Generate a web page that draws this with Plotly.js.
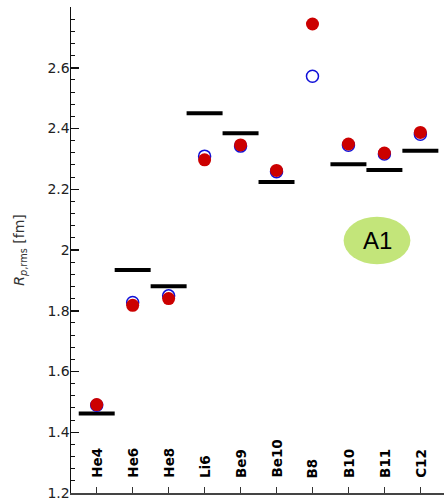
<!DOCTYPE html>
<html>
<head>
<meta charset="utf-8">
<script src="https://cdn.plot.ly/plotly-3.0.1.min.js"></script>
<style>
html,body{margin:0;padding:0;overflow:hidden;background:#fff;}
#chart{width:446px;height:499px;}
</style>
</head>
<body>
<div id="chart"></div>
<script>
// Data
var nuclei = ["He4","He6","He8","Li6","Be9","Be10","B8","B10","B11","C12"];
var experiment = [1.462, 1.934, 1.881, 2.450, 2.384, 2.224, null, 2.282, 2.263, 2.327];
var calcOpen = [1.489, 1.827, 1.849, 2.309, 2.342, 2.258, 2.572, 2.345, 2.316, 2.381];
var calcFilled = [1.491, 1.818, 1.840, 2.297, 2.346, 2.262, 2.744, 2.349, 2.319, 2.387];
var yTickVals = [1.2, 1.4, 1.6, 1.8, 2.0, 2.2, 2.4, 2.6];
var yTickText = ["1.2", "1.4", "1.6", "1.8", "2", "2.2", "2.4", "2.6"];
var badgeText = "A1";

var idx = nuclei.map(function(c, i){ return i; });

var traces = [
  {
    x: nuclei, y: experiment, type: "scatter", mode: "markers",
    marker: {symbol: "line-ew", size: 25.7, color: "#000", line: {color: "#000", width: 4}},
    showlegend: false, cliponaxis: false
  },
  {
    x: nuclei, y: calcOpen, type: "scatter", mode: "markers",
    marker: {symbol: "circle-open", size: 12, color: "#1010d8", line: {color: "#1010d8", width: 1.5}},
    showlegend: false, cliponaxis: false
  },
  {
    x: nuclei, y: calcFilled, type: "scatter", mode: "markers",
    marker: {symbol: "circle", size: 13, color: "#cc0000", line: {width: 0}},
    showlegend: false, cliponaxis: false
  }
];

var annotations = nuclei.map(function(n){
  return {
    x: n, xref: "x", y: 0, yref: "paper",
    text: "<b>" + n + "</b>", showarrow: false, textangle: -90,
    xanchor: "center", yanchor: "bottom", yshift: 13,
    font: {family: "DejaVu Sans", size: 13.5, color: "#000"}
  };
});
annotations.push({
  x: 0.816, y: 0.5195, xref: "paper", yref: "paper",
  xanchor: "center", yanchor: "middle",
  text: badgeText, showarrow: false,
  font: {family: "Liberation Sans", size: 24, color: "#000"}
});

var xr = [-0.715, 9.713];
var layout = {
  width: 446, height: 499,
  margin: {l: 71, r: 0, t: 7, b: 6, pad: 0},
  paper_bgcolor: "#fff", plot_bgcolor: "#fff",
  showlegend: false,
  font: {family: "DejaVu Sans", color: "#222"},
  xaxis: {
    type: "category", categoryorder: "array", categoryarray: nuclei,
    range: xr, showgrid: false, zeroline: false,
    showline: true, linecolor: "#444", linewidth: 1.5,
    ticks: "inside", ticklen: 6, tickcolor: "#333", tickwidth: 1,
    showticklabels: false
  },
  xaxis2: {
    overlaying: "x", side: "top", type: "linear",
    range: xr, showgrid: false, zeroline: false,
    showline: true, linecolor: "#999", linewidth: 1.5,
    tickmode: "array", tickvals: idx,
    ticks: "inside", ticklen: 7, tickcolor: "#555", tickwidth: 1,
    showticklabels: false
  },
  yaxis: {
    range: [1.2, 2.8], showgrid: false, zeroline: false,
    showline: true, linecolor: "#111", linewidth: 1.5,
    tickmode: "array", tickvals: yTickVals, ticktext: yTickText,
    ticks: "inside", ticklen: 8, tickcolor: "#111", tickwidth: 1.5,
    ticklabeloverflow: "allow", ticklabelstandoff: -3,
    minor: {dtick: 0.04, tick0: 1.2, ticks: "inside", ticklen: 4, tickcolor: "#111", tickwidth: 1, showgrid: false},
    tickfont: {family: "DejaVu Sans", size: 14, color: "#222"},
    title: {text: "<i>R</i><sub><i>p</i>,rms</sub> [fm]", font: {family: "DejaVu Sans", size: 14, color: "#333"}, standoff: 19}
  },
  yaxis2: {
    overlaying: "y", side: "right", range: [1.2, 2.8],
    showgrid: false, zeroline: false, showline: false,
    tickmode: "array", tickvals: yTickVals,
    ticks: "inside", ticklen: 8, tickcolor: "#888", tickwidth: 1.5,
    minor: {dtick: 0.04, tick0: 1.2, ticks: "inside", ticklen: 4, tickcolor: "#333", tickwidth: 1, showgrid: false},
    showticklabels: false
  },
  shapes: [{
    type: "circle", xref: "paper", yref: "paper",
    x0: 0.727, x1: 0.905, y0: 0.4706, y1: 0.5685,
    fillcolor: "#c3e57a", line: {width: 0}, layer: "below"
  }],
  annotations: annotations
};

Plotly.newPlot("chart", traces, layout, {displayModeBar: false, staticPlot: true});
</script>
</body>
</html>
